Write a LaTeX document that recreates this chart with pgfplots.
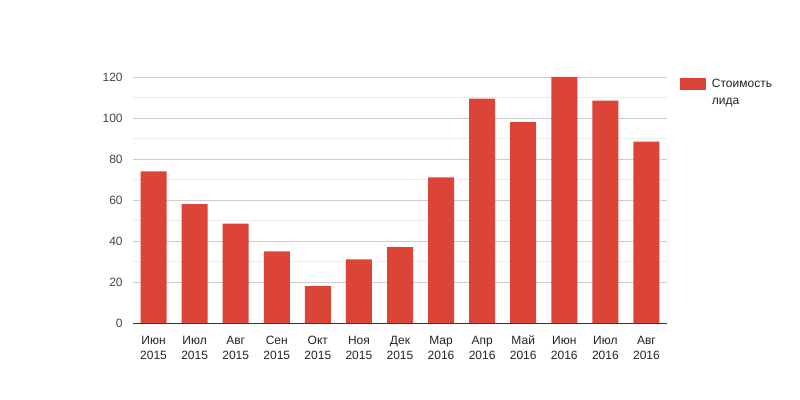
\documentclass[border=0pt]{standalone}
\usepackage{pgfplots}
\pgfplotsset{compat=1.18}
\usepackage{fontspec}
\setmainfont{Liberation Sans}
\definecolor{barred}{HTML}{DB4437}
\definecolor{majgrid}{HTML}{CCCCCC}
\definecolor{mingrid}{HTML}{EBEBEB}
\definecolor{lbl}{HTML}{444444}
\definecolor{txt}{HTML}{222222}
\newcommand{\tl}[2]{\vphantom{Й}#1\\#2}
\begin{document}
\begin{tikzpicture}
\useasboundingbox (-99.75pt,-57.75pt) rectangle (500.25pt,242.25pt);
\begin{axis}[
  at={(0,0)}, anchor=south west,
  scale only axis,
  width=400.5pt, height=184.5pt,
  xmin=-0.5, xmax=12.5,
  ymin=0, ymax=120,
  xtick=data,
  xticklabels={{\tl{Июн}{2015}},{\tl{Июл}{2015}},{\tl{Авг}{2015}},{\tl{Сен}{2015}},{\tl{Окт}{2015}},{\tl{Ноя}{2015}},{\tl{Дек}{2015}},{\tl{Мар}{2016}},{\tl{Апр}{2016}},{\tl{Май}{2016}},{\tl{Июн}{2016}},{\tl{Июл}{2016}},{\tl{Авг}{2016}}},
  xticklabel style={align=center, font=\fontsize{9}{11.25}\selectfont, text=txt},
  ytick={20,40,60,80,100,120},
  extra y ticks={0},
  extra y tick style={grid=major, major grid style={draw=black!80, line width=0.75pt}},
  minor y tick num=1,
  ymajorgrids, yminorgrids,
  major grid style={draw=majgrid, line width=0.6pt},
  minor grid style={draw=mingrid, line width=0.6pt},
  yticklabel style={font=\fontsize{9}{10.5}\selectfont, text=lbl},
  /pgf/number format/assume math mode=true,
  major tick length=0pt, minor tick length=0pt,
  axis line style={draw=none},
  xtick style={draw=none}, ytick style={draw=none},
  yticklabel style={xshift=-4.25pt},
  xticklabel style={yshift=-4.75pt},
  ybar, bar width=19.5pt,
  legend style={at={(1,1)}, anchor=north west, xshift=9.75pt, yshift=0.75pt, draw=none, fill=none, inner sep=0pt,
    font=\fontsize{9}{12.75}\selectfont, text=txt, cells={align=left, anchor=west}},
  legend image code/.code={\fill[#1,draw=none] (0pt,1.6pt) rectangle (19.5pt,11.1pt); \path (21.75pt,0pt);},
]
\addplot[fill=barred, draw=none, bar shift=0pt] coordinates {
(0,74) (1,58) (2,48.5) (3,35) (4,18) (5,31) (6,37) (7,71) (8,109.5) (9,98) (10,120) (11,108.5) (12,88.5)
};
\addlegendentry{Стоимость\\лида}
\end{axis}
\end{tikzpicture}
\end{document}
